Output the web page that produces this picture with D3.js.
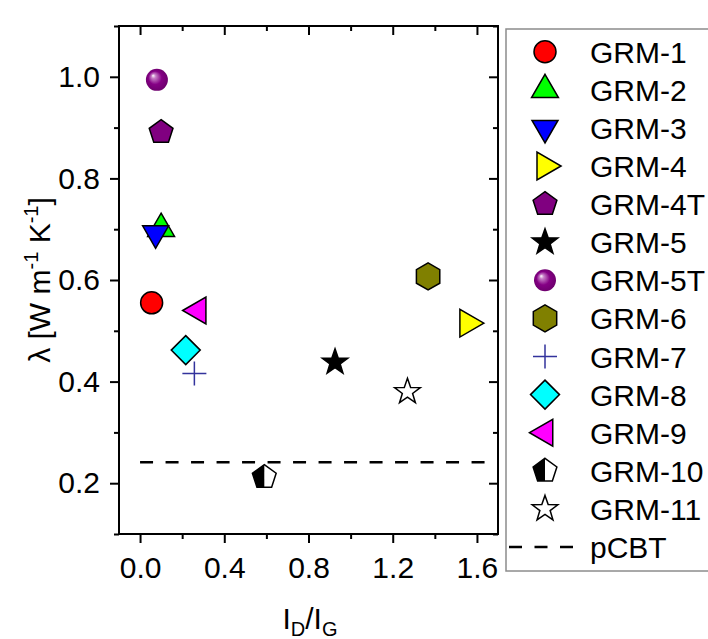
<!DOCTYPE html>
<html>
<head>
<meta charset="utf-8">
<script src="https://cdn.jsdelivr.net/npm/d3@7"></script>
<style>
  body { margin: 0; background: #fff; }
  text { font-family: 'Liberation Sans', Arial, sans-serif; fill: #000; }
</style>
</head>
<body>
<svg class="chart"></svg>
<script>
'use strict'

// samples and values
const samples = ['GRM-1', 'GRM-2', 'GRM-3', 'GRM-4', 'GRM-4T', 'GRM-5', 'GRM-5T',
  'GRM-6', 'GRM-7', 'GRM-8', 'GRM-9', 'GRM-10', 'GRM-11']
const idIg = [0.055, 0.10, 0.074, 1.557, 0.10, 0.926, 0.08, 1.368, 0.258, 0.217, 0.276, 0.59, 1.27]
const lambda = [0.555, 0.701, 0.692, 0.515, 0.891, 0.438, 0.994, 0.607, 0.416, 0.462, 0.540, 0.212, 0.38]
const pCBT = 0.241
const xTicks = [0.0, 0.4, 0.8, 1.2, 1.6]
const yTicks = [0.2, 0.4, 0.6, 0.8, 1.0]

// marker look for each sample (same order as samples)
const markers = [
  { shape: 'circle', fill: '#ff0000' },
  { shape: 'triUp', fill: '#00ff00' },
  { shape: 'triDown', fill: '#0000ff' },
  { shape: 'triRight', fill: '#ffff00' },
  { shape: 'pentagon', fill: '#800080' },
  { shape: 'star', fill: '#000000' },
  { shape: 'sphere', fill: '#800080' },
  { shape: 'hexagon', fill: '#808000' },
  { shape: 'plus', fill: 'none' },
  { shape: 'diamond', fill: '#00ffff' },
  { shape: 'triLeft', fill: '#ff00ff' },
  { shape: 'halfPentagon', fill: 'none' },
  { shape: 'star', fill: '#ffffff' }
]

const FONT = 30

/**
 * Regular polygon path, first vertex rotated by rot from the top
 */
function polygonPath (n, r, rot) {
  const pts = d3.range(n).map(i => {
    const a = rot + i * 2 * Math.PI / n
    return [r * Math.sin(a), -r * Math.cos(a)]
  })
  return 'M' + pts.join('L') + 'Z'
}

function starPath (r) {
  const pts = d3.range(10).map(i => {
    const a = i * Math.PI / 5
    const rr = i % 2 ? r * 0.4 : r
    return [rr * Math.sin(a), -rr * Math.cos(a)]
  })
  return 'M' + pts.join('L') + 'Z'
}

/**
 * Draws one marker in group g
 */
function drawMarker (g, m) {
  let p
  switch (m.shape) {
    case 'circle':
      p = g.append('circle').attr('r', 11)
      break
    case 'sphere':
      g.append('circle').attr('r', 11).attr('fill', 'url(#sphereGrad)')
      return
    case 'triUp': p = g.append('path').attr('d', polygonPath(3, 15.5, 0)); break
    case 'triDown': p = g.append('path').attr('d', polygonPath(3, 15, Math.PI)); break
    case 'triRight': p = g.append('path').attr('d', polygonPath(3, 16, Math.PI / 2)); break
    case 'triLeft': p = g.append('path').attr('d', polygonPath(3, 15.5, -Math.PI / 2)); break
    case 'pentagon': p = g.append('path').attr('d', polygonPath(5, 12.5, 0)); break
    case 'hexagon': p = g.append('path').attr('d', polygonPath(6, 13.5, 0)); break
    case 'diamond': p = g.append('path').attr('d', polygonPath(4, 14.5, 0)); break
    case 'star': p = g.append('path').attr('d', starPath(13.5)); break
    case 'plus':
      g.append('path').attr('d', 'M-12,0H12M0,-12V12')
        .attr('stroke', '#33339c').attr('stroke-width', 1.5).attr('fill', 'none')
      return
    case 'halfPentagon': {
      const r = 12.5
      const s72 = Math.sin(2 * Math.PI / 5); const c72 = Math.cos(2 * Math.PI / 5)
      const s36 = Math.sin(Math.PI / 5); const c36 = Math.cos(Math.PI / 5)
      g.append('path').attr('d', polygonPath(5, r, 0)).attr('fill', '#fff')
      g.append('path')
        .attr('d', `M0,${-r}L${-r * s72},${-r * c72}L${-r * s36},${r * c36}L0,${r * c36}Z`)
        .attr('fill', '#000')
      p = g.append('path').attr('d', polygonPath(5, r, 0))
      break
    }
  }
  p.attr('fill', m.fill).attr('stroke', '#000').attr('stroke-width', 1.5)
}

(function (d3) {
  const svgSize = { width: 708, height: 639 }
  const plot = { left: 119, right: 498, top: 26, bottom: 534 }

  const svg = d3.select('.chart')
    .attr('width', svgSize.width)
    .attr('height', svgSize.height)

  // gradient for the shiny sphere
  const grad = svg.append('defs').append('radialGradient')
    .attr('id', 'sphereGrad').attr('cx', 0.5).attr('cy', 0.5).attr('r', 0.55)
    .attr('fx', 0.32).attr('fy', 0.3)
  grad.append('stop').attr('offset', '0%').attr('stop-color', '#ffffff')
  grad.append('stop').attr('offset', '18%').attr('stop-color', '#c77fc7')
  grad.append('stop').attr('offset', '55%').attr('stop-color', '#850085')
  grad.append('stop').attr('offset', '100%').attr('stop-color', '#6a006a')

  const x = d3.scaleLinear().domain([-0.1, 1.7]).range([plot.left, plot.right])
  const y = d3.scaleLinear().domain([0.1, 1.1]).range([plot.bottom, plot.top])

  const xMinor = d3.range(0, 1.61, 0.2).filter(v => !xTicks.some(t => Math.abs(t - v) < 1e-6))
  const yMinor = d3.range(0.1, 1.11, 0.1).map(v => +v.toFixed(1)).filter(v => !yTicks.some(t => Math.abs(t - v) < 1e-6))

  const axisStyle = g => {
    g.select('.domain').remove()
    g.selectAll('line').attr('stroke', '#000').attr('stroke-width', 2)
    g.selectAll('text').attr('font-size', FONT).attr('font-family', "'Liberation Sans', Arial, sans-serif")
  }

  // bottom axis, ticks outward
  svg.append('g').attr('transform', `translate(0,${plot.bottom})`)
    .call(d3.axisBottom(x).tickValues(xTicks).tickFormat(d3.format('.1f')).tickSize(9).tickPadding(14))
    .call(axisStyle)
  svg.append('g').attr('transform', `translate(0,${plot.bottom})`)
    .call(d3.axisBottom(x).tickValues(xMinor).tickFormat('').tickSize(5))
    .call(axisStyle)
  // left axis, ticks outward
  svg.append('g').attr('transform', `translate(${plot.left},0)`)
    .call(d3.axisLeft(y).tickValues(yTicks).tickFormat(d3.format('.1f')).tickSize(9).tickPadding(10))
    .call(axisStyle)
  svg.append('g').attr('transform', `translate(${plot.left},0)`)
    .call(d3.axisLeft(y).tickValues(yMinor).tickFormat('').tickSize(5))
    .call(axisStyle)
  // top and right mirror, ticks inward
  svg.append('g').attr('transform', `translate(0,${plot.top})`)
    .call(d3.axisBottom(x).tickValues(xTicks).tickFormat('').tickSize(9))
    .call(axisStyle)
  svg.append('g').attr('transform', `translate(0,${plot.top})`)
    .call(d3.axisBottom(x).tickValues(xMinor).tickFormat('').tickSize(5))
    .call(axisStyle)
  svg.append('g').attr('transform', `translate(${plot.right},0)`)
    .call(d3.axisLeft(y).tickValues(yTicks).tickFormat('').tickSize(9))
    .call(axisStyle)
  svg.append('g').attr('transform', `translate(${plot.right},0)`)
    .call(d3.axisLeft(y).tickValues(yMinor).tickFormat('').tickSize(5))
    .call(axisStyle)

  // frame
  svg.append('rect')
    .attr('x', plot.left).attr('y', plot.top)
    .attr('width', plot.right - plot.left).attr('height', plot.bottom - plot.top)
    .attr('fill', 'none').attr('stroke', '#000').attr('stroke-width', 2)

  // pCBT reference line
  svg.append('line')
    .attr('x1', x(0)).attr('x2', x(1.7) - 8)
    .attr('y1', y(pCBT)).attr('y2', y(pCBT))
    .attr('stroke', '#000').attr('stroke-width', 2.5).attr('stroke-dasharray', '13,12.5')

  // points
  svg.append('g').selectAll('g')
    .data(samples.map((s, i) => ({ name: s, x: idIg[i], y: lambda[i], m: markers[i] })))
    .enter()
    .append('g')
    .attr('transform', d => `translate(${x(d.x)},${y(d.y)})`)
    .each(function (d) { drawMarker(d3.select(this), d.m) })

  // axis titles
  const yt = svg.append('text')
    .attr('transform', 'translate(50,280) rotate(-90)')
    .attr('text-anchor', 'middle').attr('font-size', FONT)
  yt.append('tspan').text('λ [W m')
  yt.append('tspan').attr('dy', -12).attr('font-size', 20).text('-1')
  yt.append('tspan').attr('dy', 12).text(' K')
  yt.append('tspan').attr('dy', -12).attr('font-size', 20).text('-1')
  yt.append('tspan').attr('dy', 12).text(']')

  const xt = svg.append('text')
    .attr('x', 310).attr('y', 629)
    .attr('text-anchor', 'middle').attr('font-size', FONT)
  xt.append('tspan').text('I')
  xt.append('tspan').attr('dy', 7).attr('font-size', 20).text('D')
  xt.append('tspan').attr('dy', -7).text('/I')
  xt.append('tspan').attr('dy', 7).attr('font-size', 20).text('G')

  // legend
  const legend = { left: 506, top: 29, bottom: 571, row0: 51.7, step: 38.1, symX: 545, textX: 590 }
  svg.append('rect')
    .attr('x', legend.left).attr('y', legend.top)
    .attr('width', 240).attr('height', legend.bottom - legend.top)
    .attr('fill', '#fff').attr('stroke', '#8c8c8c').attr('stroke-width', 1.5)

  const rows = svg.append('g').selectAll('g')
    .data(samples.map((s, i) => ({ name: s, m: markers[i] })).concat([{ name: 'pCBT', m: null }]))
    .enter()
    .append('g')
    .attr('transform', (d, i) => `translate(0,${legend.row0 + i * legend.step})`)

  rows.each(function (d) {
    const g = d3.select(this)
    if (d.m) {
      drawMarker(g.append('g').attr('transform', `translate(${legend.symX},0)`), d.m)
    } else {
      g.append('line').attr('x1', 509).attr('x2', 573).attr('y1', 0).attr('y2', 0)
        .attr('stroke', '#000').attr('stroke-width', 2.5).attr('stroke-dasharray', '13,12.5')
    }
    g.append('text').attr('x', legend.textX).attr('y', 11)
      .attr('font-size', FONT).text(d.name)
  })
})(d3)
</script>
</body>
</html>
